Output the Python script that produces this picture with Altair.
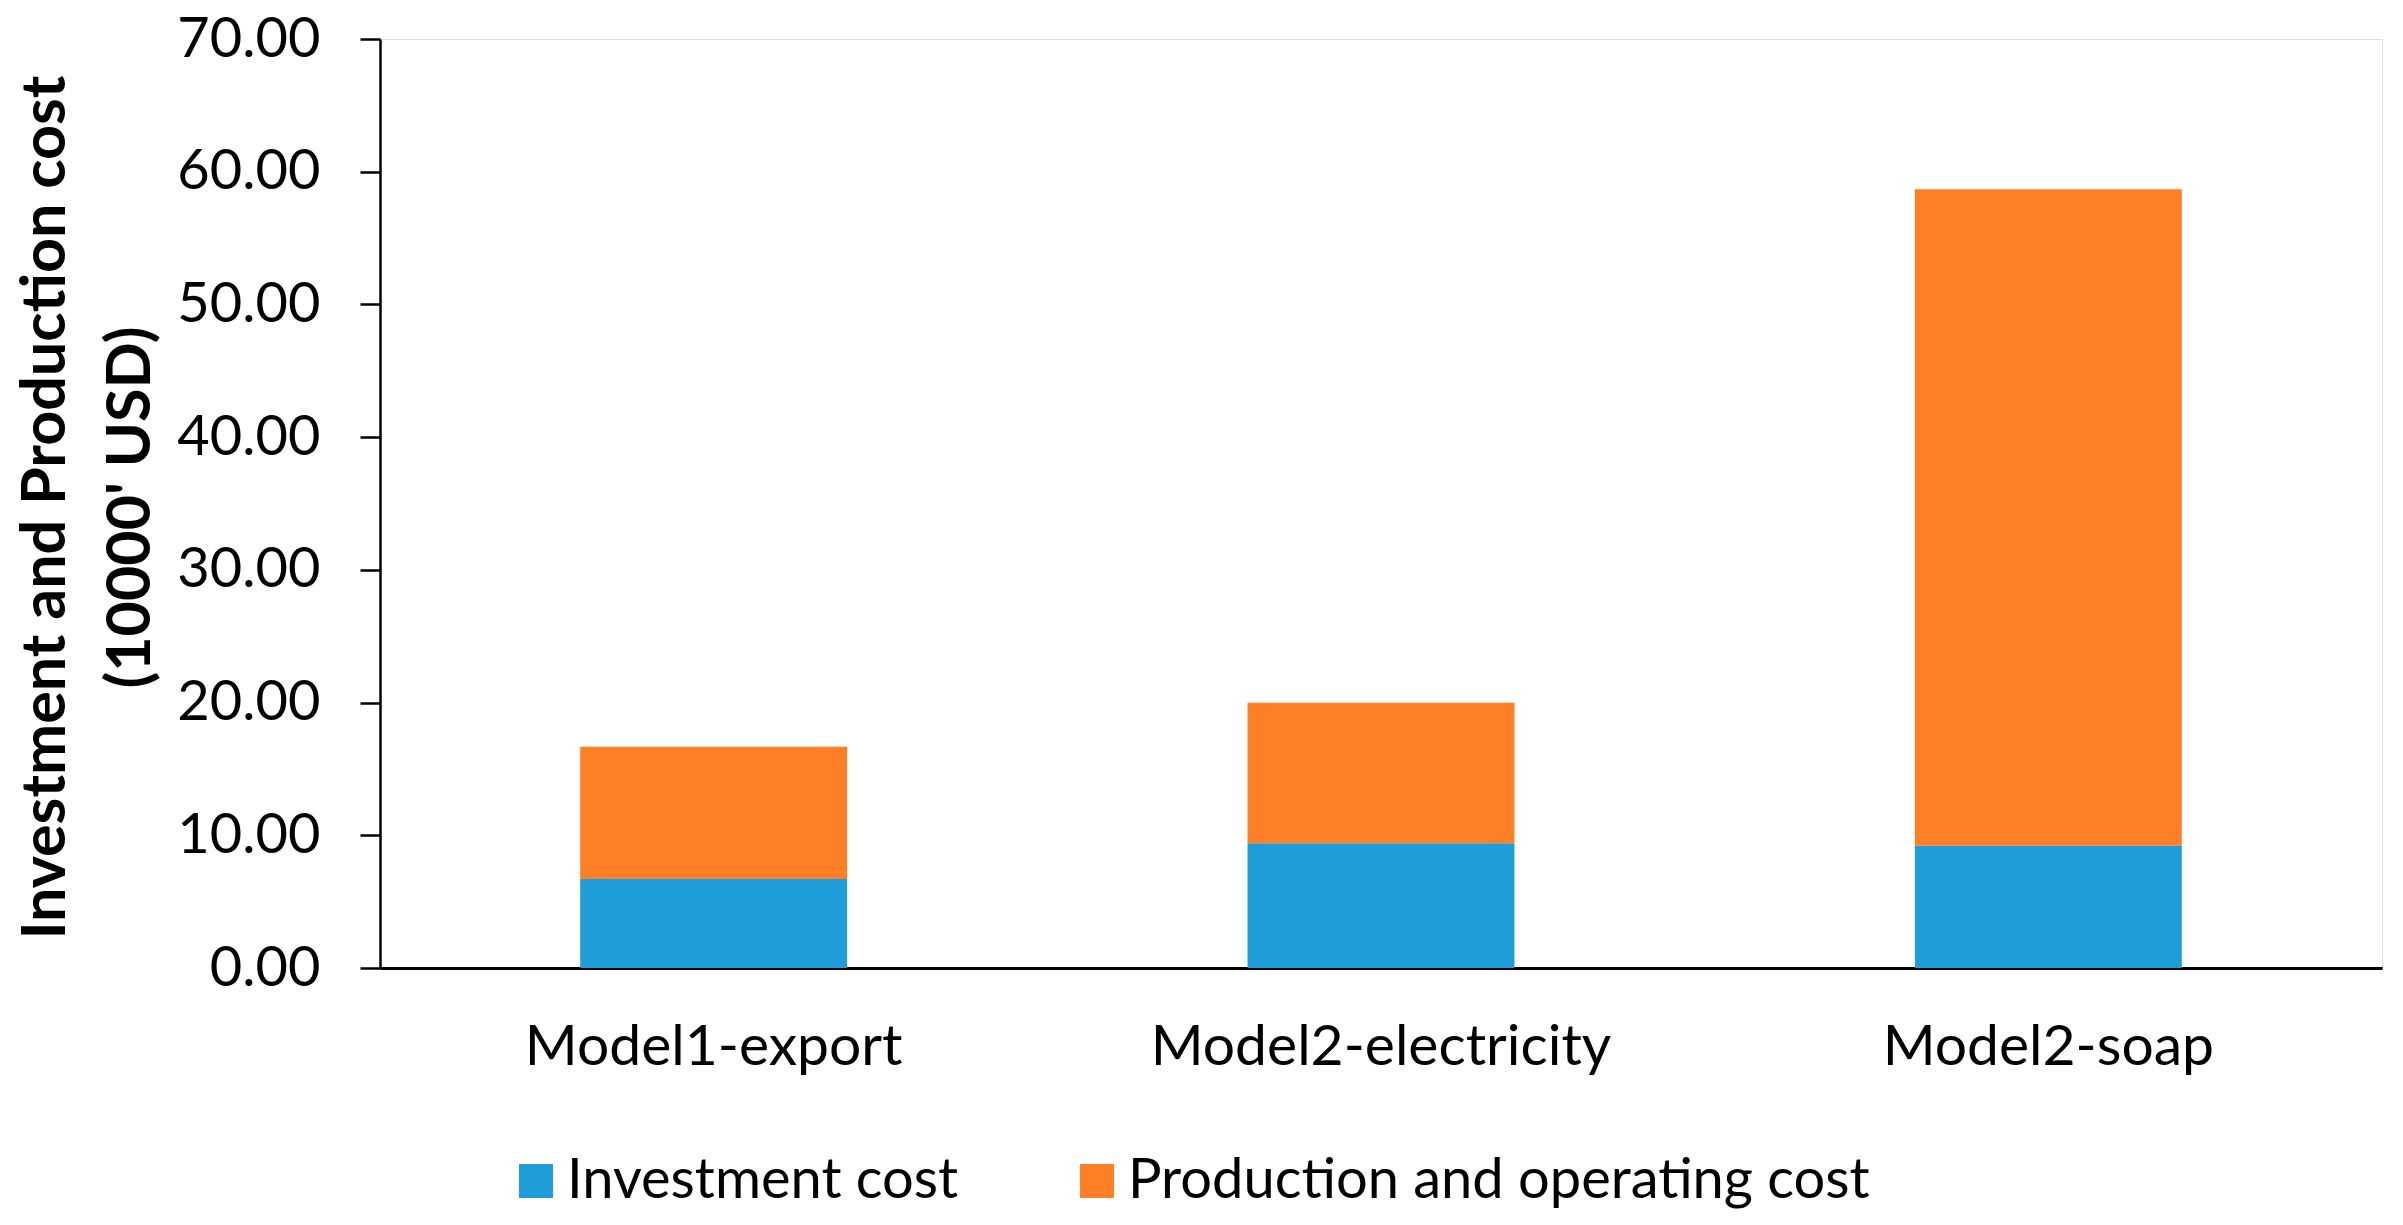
import altair as alt
import pandas as pd

categories = ["Model1-export", "Model2-electricity", "Model2-soap"]
investment = [6.71, 9.40, 9.22]
production = [9.97, 10.59, 49.46]
series = ["Investment cost", "Production and operating cost"]
colors = ["#1E9DD8", "#FF7F27"]
y_ticks = [0, 10, 20, 30, 40, 50, 60, 70]

rows = []
for c, inv, prod in zip(categories, investment, production):
    rows.append({"model": c, "series": series[0], "value": inv, "ord": 0})
    rows.append({"model": c, "series": series[1], "value": prod, "ord": 1})
df = pd.DataFrame(rows)

FONT = "Lato"

chart = (
    alt.Chart(df)
    .mark_bar()
    .encode(
        x=alt.X(
            "model:N",
            sort=categories,
            title=None,
            scale=alt.Scale(paddingInner=0.6, paddingOuter=0.3),
            axis=alt.Axis(
                labelAngle=0,
                ticks=False,
                tickSize=0,
                labelPadding=51,
                labelFont=FONT,
                labelFontSize=57,
                labelLimit=0,
                labelColor="black",
                domainColor="black",
                domainWidth=3,
                grid=False,
            ),
        ),
        y=alt.Y(
            "value:Q",
            stack="zero",
            scale=alt.Scale(domain=[0, 70], nice=False),
            axis=alt.Axis(
                values=y_ticks,
                format=".2f",
                title=["Investment and Production cost", "(10000' USD)"],
                titleFont=FONT,
                titleFontSize=61,
                titleFontWeight="bold",
                titleColor="black",
                titleAngle=-90,
                titleAlign="center",
                titleBaseline="alphabetic",
                titleX=-316,
                titleY=468,
                titleLineHeight=85,
                labelFont=FONT,
                labelFontSize=56,
                labelColor="black",
                labelPadding=40,
                tickSize=20,
                tickWidth=2.5,
                tickColor="black",
                domainColor="black",
                domainWidth=2.5,
                grid=False,
            ),
        ),
        color=alt.Color(
            "series:N",
            scale=alt.Scale(domain=series, range=colors),
            legend=alt.Legend(
                orient="none",
                legendX=128,
                legendY=1114,
                direction="horizontal",
                title=None,
                symbolType="square",
                symbolSize=1156,
                symbolStrokeWidth=0,
                labelFont=FONT,
                labelFontSize=56,
                labelColor="black",
                labelOffset=3,
                columnPadding=110,
                labelLimit=0,
                padding=0,
            ),
        ),
        order=alt.Order("ord:Q", sort="ascending"),
    )
    .properties(
        width=2002,
        height=929,
        autosize=alt.AutoSizeParams(type="none"),
        padding={"left": 372, "top": 31, "right": 13, "bottom": 249},
    )
    .configure_view(stroke=None)
    .configure(background="white")
)

chart.save("out.html", embed_options={"renderer": "svg", "actions": False})
